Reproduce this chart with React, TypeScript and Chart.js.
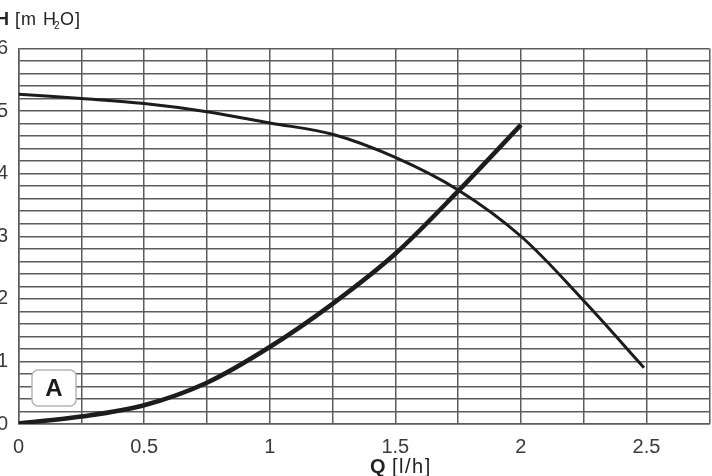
import React, { useEffect, useRef } from "react";
import { Chart, ChartConfiguration, Plugin, registerables } from "chart.js";
Chart.register(...registerables);

// pump curve A (head vs flow) and system curve
const pumpQ = [0, 0.25, 0.5, 0.75, 1, 1.25, 1.5, 1.75, 2, 2.25, 2.49];
const pumpH = [5.27, 5.2, 5.12, 4.99, 4.81, 4.63, 4.26, 3.74, 3.0, 1.97, 0.9];
const systemQ = [0, 0.25, 0.5, 0.75, 1, 1.25, 1.5, 1.75, 2];
const systemH = [0.01, 0.12, 0.3, 0.66, 1.23, 1.92, 2.72, 3.72, 4.78];

const xLabels = [0, 0.5, 1, 1.5, 2, 2.5];
const yLabels = [0, 1, 2, 3, 4, 5, 6];

const FONT = "'Liberation Sans', Arial, sans-serif";
const GRID = "#5c5c5c";

const toPoints = (xs: number[], ys: number[]) => xs.map((x, i) => ({ x, y: ys[i] }));

const annotations: Plugin = {
  id: "annotations",
  afterDraw(chart) {
    const ctx = chart.ctx as CanvasRenderingContext2D & { letterSpacing: string };
    const area = chart.chartArea;
    ctx.save();
    ctx.fillStyle = "#222";
    ctx.textBaseline = "alphabetic";

    // y title: H [m H2O]
    const yb = 25;
    ctx.font = `bold 18px ${FONT}`;
    ctx.fillText("H", -4, yb);
    ctx.font = `18px ${FONT}`;
    ctx.letterSpacing = "1px";
    ctx.fillText("[m H", 15, yb);
    ctx.font = `10px ${FONT}`;
    ctx.letterSpacing = "0px";
    ctx.fillText("2", 54, yb + 4);
    ctx.font = `18px ${FONT}`;
    ctx.letterSpacing = "1px";
    ctx.fillText("O]", 60, yb);

    // x title: Q [l/h]
    const qb = 473;
    ctx.letterSpacing = "0px";
    ctx.font = `bold 20px ${FONT}`;
    ctx.fillText("Q", 370, qb);
    ctx.font = `20px ${FONT}`;
    ctx.letterSpacing = "1.5px";
    ctx.fillText("[l/h]", 392, qb);
    ctx.letterSpacing = "0px";

    // curve label box
    const bx = area.left + 13.5;
    const by = area.bottom - 54;
    const bw = 44;
    const bh = 36;
    ctx.beginPath();
    ctx.roundRect(bx, by, bw, bh, 6);
    ctx.fillStyle = "#fff";
    ctx.fill();
    ctx.lineWidth = 1.5;
    ctx.strokeStyle = "#b5b5b5";
    ctx.stroke();
    ctx.fillStyle = "#1a1a1a";
    ctx.font = `bold 24px ${FONT}`;
    ctx.textAlign = "center";
    ctx.textBaseline = "middle";
    ctx.fillText("A", bx + bw / 2, by + bh / 2 + 1);
    ctx.restore();
  },
};

export default function App() {
  const canvasRef = useRef<HTMLCanvasElement>(null);
  const chartRef = useRef<Chart | null>(null);

  useEffect(() => {
    if (!canvasRef.current) return;
    if (chartRef.current) chartRef.current.destroy();

    const config: ChartConfiguration<"scatter"> = {
      type: "scatter",
      data: {
        datasets: [
          {
            label: "A",
            data: toPoints(pumpQ, pumpH),
            showLine: true,
            borderColor: "#1c1c1c",
            borderWidth: 3,
            pointRadius: 0,
            tension: 0.35,
          },
          {
            label: "system",
            data: toPoints(systemQ, systemH),
            showLine: true,
            borderColor: "#1c1c1c",
            borderWidth: 4.5,
            pointRadius: 0,
            cubicInterpolationMode: "monotone",
          },
        ],
      },
      options: {
        animation: false,
        responsive: true,
        maintainAspectRatio: false,
        layout: { padding: { left: 0, top: 48.5, right: 2.7, bottom: 0 } },
        plugins: {
          legend: { display: false },
          tooltip: { enabled: false },
        },
        scales: {
          x: {
            type: "linear",
            min: 0,
            max: 2.75,
            afterFit: (s) => {
              s.height = 52;
              s.paddingLeft = 0;
              s.paddingRight = 0;
            },
            grid: { color: GRID, lineWidth: 1.5, drawTicks: false },
            border: { color: GRID, width: 1.5 },
            ticks: {
              stepSize: 0.25,
              autoSkip: false,
              maxRotation: 0,
              padding: 11,
              color: "#3a3a3a",
              font: { family: FONT, size: 20 },
              callback: (v) => {
                const n = Number(v);
                return xLabels.some((l) => Math.abs(l - n) < 1e-6) ? String(n) : "";
              },
            },
          },
          y: {
            type: "linear",
            min: 0,
            max: 6,
            afterFit: (s) => {
              s.width = 18.5;
              s.paddingTop = 0;
              s.paddingBottom = 0;
            },
            grid: { color: GRID, lineWidth: 1.5, drawTicks: false },
            border: { color: GRID, width: 1.5 },
            ticks: {
              stepSize: 0.2,
              autoSkip: false,
              padding: 10.5,
              color: "#3a3a3a",
              font: { family: FONT, size: 20 },
              callback: (v) => {
                const n = Number(v);
                const hit = yLabels.find((l) => Math.abs(l - n) < 1e-6);
                return hit === undefined ? "" : String(hit);
              },
            },
          },
        },
      },
      plugins: [annotations],
    };

    chartRef.current = new Chart(canvasRef.current, config);
    return () => {
      if (chartRef.current) {
        chartRef.current.destroy();
        chartRef.current = null;
      }
    };
  }, []);

  return (
    <div
      style={{
        position: "absolute",
        left: 0,
        top: 0,
        width: 712,
        height: 476,
        overflow: "hidden",
        background: "#fff",
      }}
    >
      <canvas ref={canvasRef} />
    </div>
  );
}
